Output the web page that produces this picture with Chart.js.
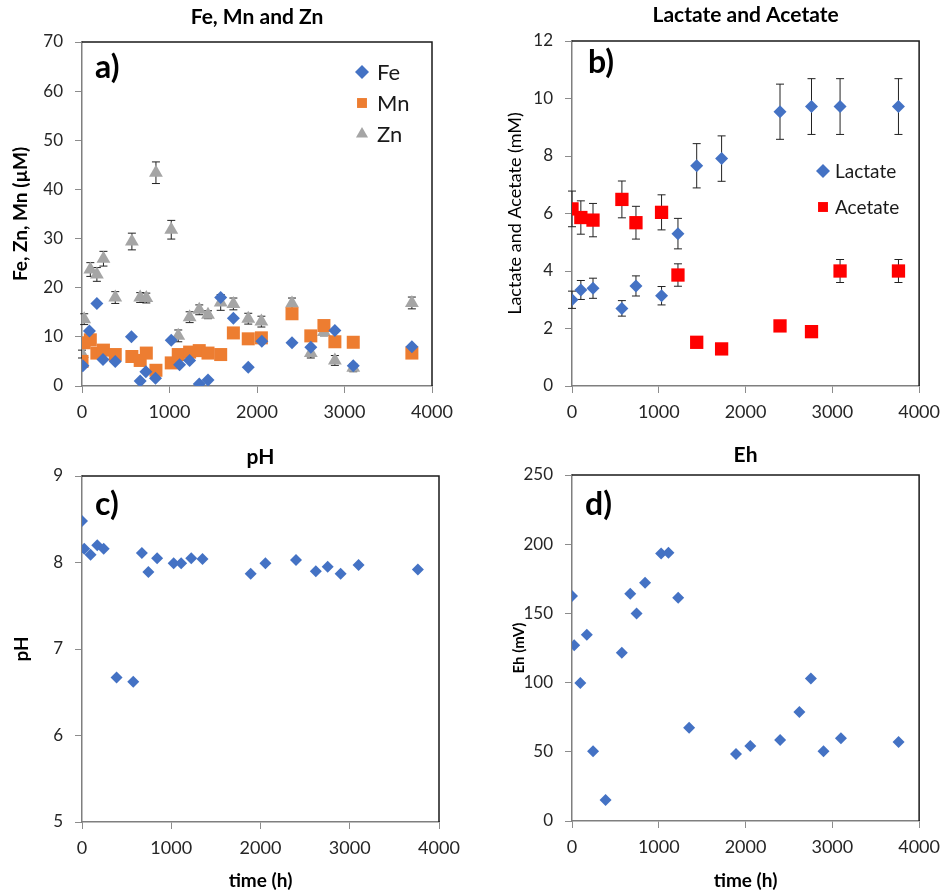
<!DOCTYPE html>
<html>
<head>
<meta charset="utf-8">
<script src="https://cdn.jsdelivr.net/npm/chart.js@4.4.1/dist/chart.umd.min.js"></script>
<style>
  body { margin: 0; background: #fff; }
  #wrap { position: relative; width: 948px; height: 893px; }
  canvas { position: absolute; }
</style>
</head>
<body>
<div id="wrap">
  <canvas id="chartA" width="474" height="440" style="left:0;top:0"></canvas>
  <canvas id="chartB" width="474" height="440" style="left:474px;top:0"></canvas>
  <canvas id="chartC" width="474" height="453" style="left:0;top:440px"></canvas>
  <canvas id="chartD" width="474" height="453" style="left:474px;top:440px"></canvas>
</div>
<script>
// a) metals (µM)
const feTime   = [10, 85, 170, 240, 380, 565, 665, 730, 840, 1020, 1115, 1230, 1340, 1440, 1585, 1730, 1900, 2055, 2400, 2615, 2890, 3100, 3770];
const feValues = [4.1, 11.2, 16.8, 5.4, 5.0, 10.0, 1.0, 2.9, 1.6, 9.3, 4.3, 5.2, 0.4, 1.2, 18.0, 13.8, 3.8, 9.1, 8.8, 7.9, 11.3, 4.1, 8.0];
const metalTime = [0, 25, 95, 170, 245, 380, 570, 665, 735, 845, 1020, 1100, 1230, 1340, 1440, 1585, 1730, 1900, 2050, 2400, 2615, 2765, 2890, 3100, 3770];
const mnValues = [5.0, 8.8, 9.4, 6.7, 7.3, 6.4, 6.0, 5.2, 6.7, 3.2, 4.7, 6.4, 6.9, 7.2, 6.7, 6.4, 10.8, 9.6, 9.8, 14.7, 10.2, 12.3, 9.0, 8.9, 6.7];
const znValues = [6.5, 13.6, 23.7, 22.7, 25.9, 18.0, 29.4, 18.0, 17.9, 43.4, 31.8, 10.2, 14.0, 15.5, 14.5, 17.0, 16.7, 13.7, 13.1, 16.8, 6.7, 11.0, 5.2, 3.7, 16.9];
const znErrors = [0.8, 1.1, 1.4, 1.4, 1.5, 1.2, 1.7, 1.0, 1.0, 2.2, 1.9, 1.2, 1.1, 1.0, 0.8, 1.6, 1.2, 1.1, 1.1, 1.1, 1.0, 0.8, 1.0, 0.8, 1.2];

// b) organic acids (mM)
const acidTime      = [0, 102, 242, 575, 737, 1032, 1221, 1437, 1724, 2397, 2760, 3089, 3762];
const lactateValues = [3.0, 3.34, 3.40, 2.70, 3.48, 3.14, 5.30, 7.66, 7.91, 9.54, 9.72, 9.72, 9.72];
const lactateErrors = [0.3, 0.33, 0.35, 0.27, 0.35, 0.32, 0.53, 0.77, 0.79, 0.96, 0.97, 0.97, 0.97];
const acetateValues = [6.16, 5.86, 5.77, 6.49, 5.68, 6.04, 3.86, 1.52, 1.29, 2.09, 1.89, 4.0, 4.0];
const acetateErrors = [0.62, 0.58, 0.58, 0.64, 0.57, 0.61, 0.39, 0.1, 0.1, 0.1, 0.1, 0.4, 0.4];

// c) pH and d) Eh (mV)
const probeTime = [0, 25, 96, 171, 243, 387, 574, 671, 744, 842, 1027, 1111, 1224, 1350, 1890, 2055, 2398, 2620, 2753, 2898, 3099, 3763];
const phValues  = [8.48, 8.16, 8.09, 8.20, 8.16, 6.67, 6.62, 8.11, 7.89, 8.05, 7.99, 7.99, 8.05, 8.04, 7.87, 7.99, 8.03, 7.90, 7.95, 7.87, 7.97, 7.92];
const ehValues  = [162.5, 127, 99.8, 134.5, 50.4, 15.2, 121.5, 164.2, 150, 172.1, 193.3, 193.8, 161.3, 67.3, 48.5, 54.2, 58.6, 78.8, 102.9, 50.4, 59.8, 57.1];

const timeTicks = [0, 1000, 2000, 3000, 4000];

const BLUE = '#4472C4', ORANGE = '#ED7D31', GREY = '#A5A5A5', RED = '#FF0000';
const FONT = 'Lato';
const TITLE_SIZE = 21;

function points(xs, ys) {
    return xs.map((x, i) => ({ x: x, y: ys[i] }));
}

// same geometry as chart.js pointStyles
function drawMarker(ctx, style, r, x, y, color) {
    ctx.fillStyle = color;
    ctx.beginPath();
    if (style === 'rectRot') {
        ctx.moveTo(x, y - r); ctx.lineTo(x + r, y); ctx.lineTo(x, y + r); ctx.lineTo(x - r, y);
    } else if (style === 'rect') {
        const s = r * Math.SQRT1_2;
        ctx.rect(x - s, y - s, 2 * s, 2 * s);
    } else {
        ctx.moveTo(x, y - r);
        ctx.lineTo(x + r * 0.866, y + r / 2);
        ctx.lineTo(x - r * 0.866, y + r / 2);
    }
    ctx.closePath();
    ctx.fill();
}

const panelDecor = {
    id: 'panelDecor',
    beforeDatasetsDraw(chart, args, opts) {
        const ctx = chart.ctx;
        const a = chart.chartArea;
        const xs = chart.scales.x, ys = chart.scales.y;
        ctx.save();
        // top and right frame
        ctx.strokeStyle = '#1a1a1a';
        ctx.lineWidth = 1.5;
        ctx.beginPath();
        ctx.moveTo(a.left, a.top); ctx.lineTo(a.right, a.top); ctx.lineTo(a.right, a.bottom);
        ctx.stroke();
        // error bars
        ctx.strokeStyle = '#222';
        ctx.lineWidth = 1;
        (opts.errors || []).forEach(function (err, di) {
            if (!err) return;
            chart.data.datasets[di].data.forEach(function (p, i) {
                const px = xs.getPixelForValue(p.x);
                const y1 = ys.getPixelForValue(p.y + err[i]);
                const y2 = ys.getPixelForValue(p.y - err[i]);
                ctx.beginPath();
                ctx.moveTo(px, y1); ctx.lineTo(px, y2);
                ctx.moveTo(px - 4, y1); ctx.lineTo(px + 4, y1);
                ctx.moveTo(px - 4, y2); ctx.lineTo(px + 4, y2);
                ctx.stroke();
            });
        });
        ctx.restore();
    },
    afterDraw(chart, args, opts) {
        const ctx = chart.ctx;
        const a = chart.chartArea;
        ctx.save();
        ctx.fillStyle = '#000';
        ctx.font = 'bold 32px ' + FONT;
        ctx.textBaseline = 'middle';
        ctx.fillText(opts.label, a.left + opts.labelDx, a.top + opts.labelDy);
        if (opts.legend) {
            const lg = opts.legend;
            ctx.font = lg.size + 'px ' + FONT;
            chart.data.datasets.forEach(function (ds, i) {
                const y = a.top + lg.y + i * lg.gap;
                drawMarker(ctx, ds.pointStyle, lg.r, a.left + lg.x, y, ds.backgroundColor);
                ctx.fillStyle = '#1a1a1a';
                ctx.fillText(ds.label, a.left + lg.x + lg.textDx, y + 1);
            });
        }
        ctx.restore();
    }
};

function makeScales(o) {
    return {
        x: {
            type: 'linear', min: 0, max: 4000,
            afterFit: function (s) { s.height = o.bottom; },
            afterBuildTicks: function (s) { s.ticks = timeTicks.map(v => ({ value: v })); },
            ticks: { padding: 8, color: '#262626', font: { family: FONT, size: 18 }, callback: v => String(v), maxRotation: 0 },
            grid: { drawOnChartArea: false, tickLength: 7, color: '#8c8c8c' },
            border: { color: '#7f7f7f', width: 1.5 },
            title: o.xTitle ? {
                display: true, text: o.xTitle, color: '#000',
                font: { family: FONT, size: 19, weight: 'bold' },
                padding: { top: 0, bottom: 1 }
            } : { display: false }
        },
        y: {
            type: 'linear', min: o.yMin, max: o.yMax,
            afterFit: function (s) { s.width = o.left; },
            ticks: { stepSize: o.yStep, padding: 12, color: '#262626', font: { family: FONT, size: 17 }, callback: v => String(v) },
            grid: { drawOnChartArea: false, tickLength: 7, color: '#8c8c8c' },
            border: { color: '#7f7f7f', width: 1.5 },
            title: {
                display: true, text: o.yTitle, color: '#000',
                font: { family: FONT, size: o.yTitleSize, weight: o.yTitleWeight },
                padding: { top: o.yTitlePad, bottom: 0 }
            }
        }
    };
}

function makeChart(id, datasets, o, decor) {
    const lh = TITLE_SIZE * 1.2;
    return new Chart(document.getElementById(id), {
        type: 'scatter',
        data: { datasets: datasets },
        options: {
            responsive: false,
            animation: false,
            layout: { padding: { left: 0, right: o.right, top: 0, bottom: 0 } },
            scales: makeScales(o),
            plugins: {
                legend: { display: false },
                tooltip: { enabled: false },
                title: {
                    display: true, text: o.title, color: '#000', fullSize: false,
                    font: { family: FONT, size: TITLE_SIZE, weight: 'bold' },
                    padding: { top: o.titleMid - lh / 2, bottom: o.top - o.titleMid - lh / 2 }
                },
                panelDecor: decor
            }
        },
        plugins: [panelDecor]
    });
}

function series(label, xs, ys, style, r, color) {
    return {
        label: label, data: points(xs, ys), pointStyle: style, pointRadius: r,
        backgroundColor: color, borderColor: color, borderWidth: 0, pointHoverRadius: r
    };
}

makeChart('chartA', [
    series('Fe', feTime, feValues, 'rectRot', 6.5, BLUE),
    series('Mn', metalTime, mnValues, 'rect', 9.2, ORANGE),
    series('Zn', metalTime, znValues, 'triangle', 8, GREY)
], {
    title: 'Fe, Mn and Zn', titleMid: 17, top: 42, bottom: 54, left: 82, right: 42,
    yMin: 0, yMax: 70, yStep: 10, yTitle: 'Fe, Zn, Mn (µM)', yTitleSize: 19, yTitleWeight: 'bold', yTitlePad: 9
}, {
    label: 'a)', labelDx: 13, labelDy: 26, errors: [null, null, znErrors],
    legend: { x: 280, y: 30, gap: 31, r: 7, textDx: 15, size: 22 }
});

makeChart('chartB', [
    series('Lactate', acidTime, lactateValues, 'rectRot', 6.5, BLUE),
    series('Acetate', acidTime, acetateValues, 'rect', 9.4, RED)
], {
    title: 'Lactate and Acetate', titleMid: 15, top: 41, bottom: 54, left: 98, right: 24,
    yMin: 0, yMax: 12, yStep: 2, yTitle: 'Lactate and Acetate (mM)', yTitleSize: 18, yTitleWeight: 'normal', yTitlePad: 30
}, {
    label: 'b)', labelDx: 16, labelDy: 22, errors: [lactateErrors, acetateErrors],
    legend: { x: 251, y: 130, gap: 36, r: 7, textDx: 12, size: 19 }
});

makeChart('chartC', [
    series('pH', probeTime, phValues, 'rectRot', 6, BLUE)
], {
    title: 'pH', titleMid: 17, top: 36, bottom: 71, left: 82, right: 35, xTitle: 'time (h)',
    yMin: 5, yMax: 9, yStep: 1, yTitle: 'pH', yTitleSize: 19, yTitleWeight: 'bold', yTitlePad: 10
}, { label: 'c)', labelDx: 13, labelDy: 29 });

makeChart('chartD', [
    series('Eh', probeTime, ehValues, 'rectRot', 6, BLUE)
], {
    title: 'Eh', titleMid: 15, top: 35, bottom: 72, left: 98, right: 24, xTitle: 'time (h)',
    yMin: 0, yMax: 250, yStep: 50, yTitle: 'Eh (mV)', yTitleSize: 15, yTitleWeight: 'bold', yTitlePad: 36
}, { label: 'd)', labelDx: 13, labelDy: 30 });
</script>
</body>
</html>
